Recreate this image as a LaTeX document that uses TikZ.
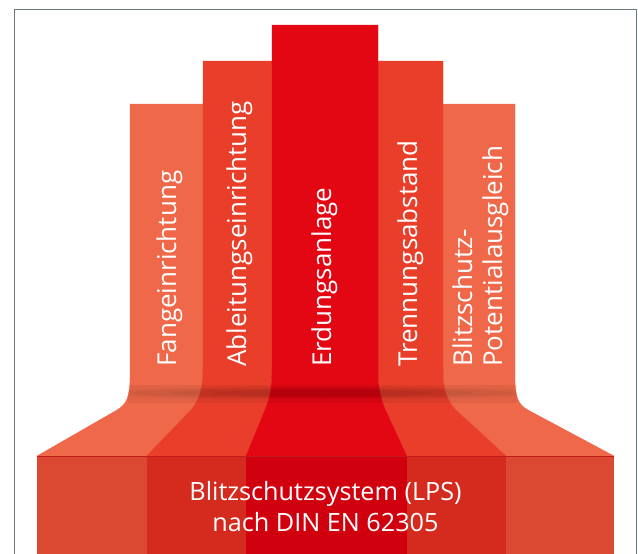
\documentclass[tikz,border=0pt]{standalone}
\usepackage{fontspec}
\setmainfont{Open Sans}
\definecolor{cFang}{HTML}{EF6849}
\definecolor{cAbl}{HTML}{E83E2A}
\definecolor{cErd}{HTML}{E30613}
\definecolor{bOut}{HTML}{DB4932}
\definecolor{bMid}{HTML}{D52A1E}
\definecolor{bCen}{HTML}{D1000E}
\definecolor{frameC}{HTML}{6A787B}
\definecolor{baseLine}{HTML}{C41A1F}
\begin{document}
\begin{tikzpicture}[x=1pt,y=-1pt,
  coltext/.style={text=white,inner sep=0pt,rotate=90,anchor=base west,font=\fontsize{26}{30}\selectfont},
  basetext/.style={text=white,inner sep=0pt,anchor=base,font=\fontsize{25.2}{30}\selectfont},
  seg/.style={line width=0.3pt}]
\useasboundingbox (0,0) rectangle (638,554);
% frame
\draw[frameC,line width=1.5pt] (14.5,554) -- (14.5,9.5) -- (636.5,9.5) -- (636.5,554);
% base
\fill[bOut] (37,456) rectangle (146.7,554);
\fill[bMid] (146.7,456) rectangle (246,554);
\fill[bCen] (246,456) rectangle (406.7,554);
\fill[bMid] (406.7,456) rectangle (506,554);
\fill[bOut] (506,456) rectangle (614,554);
% columns
\filldraw[cFang,seg] (130,104) -- (203,104) -- (203,365) .. controls (203,383) and (201.4,399) .. (190,411) -- (146.7,456) -- (37,456) -- (117,410) .. controls (126.6,404.5) and (130,396) .. (130,378) -- cycle;
\filldraw[cFang,seg] (443,104) -- (515,104) -- (515,378) .. controls (515,396) and (517.7,404.5) .. (528,410) -- (614,456) -- (506,456) -- (457,411) .. controls (443.9,399) and (443,383) .. (443,365) -- cycle;
\filldraw[cAbl,seg] (203,61) -- (272,61) -- (272,370) .. controls (272,388) and (269.1,400) .. (265,410) -- (246,456) -- (146.7,456) -- (190,411) .. controls (201.4,399) and (203,383) .. (203,365) -- cycle;
\filldraw[cAbl,seg] (378,61) -- (443,61) -- (443,365) .. controls (443,383) and (443.9,399) .. (457,411) -- (506,456) -- (406.7,456) -- (385.5,410) .. controls (380.9,400) and (378,388) .. (378,370) -- cycle;
\filldraw[cErd,seg] (272,25) -- (378,25) -- (378,370) .. controls (378,388) and (380.9,400) .. (385.5,410) -- (406.7,456) -- (246,456) -- (265,410) .. controls (269.1,400) and (272,388) .. (272,370) -- cycle;
% band with shadow
\fill[black,opacity=0.06] (127.5,385) rectangle (517,403);
\begin{scope}
  \clip (127.5,385) rectangle (517,403);
  \foreach \rx/\ry in {230/6,190/5,150/4,110/3}{
    \fill[black,opacity=0.04] (322,393) ellipse ({\rx} and {\ry});
  }
\end{scope}
% base top line
\draw[baseLine,line width=1pt] (37,456) -- (614,456);
% column texts
\node[coltext] (tFang) at (176,367) {Fangeinrichtung};
\node[coltext] (tAbl) at (246,367) {Ableitungseinrichtung};
\node[coltext] (tErd) at (331,367) {Erdungsanlage};
\node[coltext] (tTren) at (417,367) {Trennungsabstand};
\node[coltext] (tBl1) at (472,367) {Blitzschutz-};
\node[coltext] (tBl2) at (502,367) {Potentialausgleich};
% base text
\node[basetext] (b1) at (325.5,500.7) {Blitzschutzsystem (LPS)};
\node[basetext] (b2) at (325.5,531.7) {nach DIN EN 62305};
\end{tikzpicture}
\end{document}
